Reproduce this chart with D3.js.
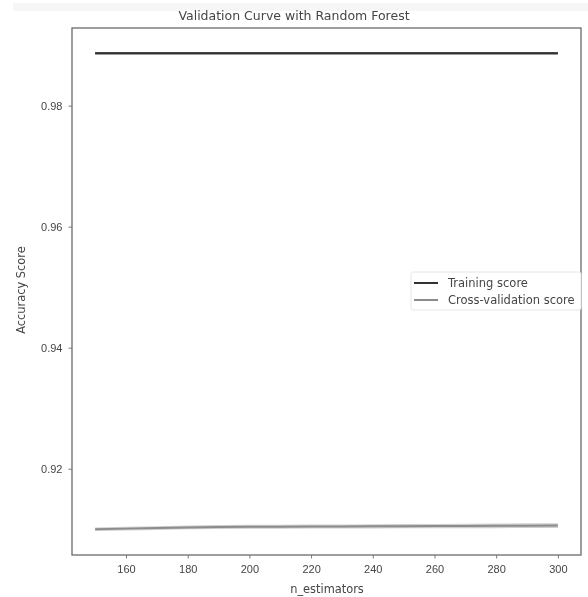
<!DOCTYPE html>
<html>
<head>
<meta charset="utf-8">
<script src="https://cdn.jsdelivr.net/npm/d3@7"></script>
<style>
  html, body { margin: 0; padding: 0; background: #fff; }
  svg { display: block; font-family: "DejaVu Sans", sans-serif; }
</style>
</head>
<body>
<svg id="chart" width="588" height="597"></svg>
<script>
// Number of trees tried in the random forest
const nEstimators = [150, 160, 170, 180, 190, 200, 210, 220, 230, 240, 250, 260, 270, 280, 290, 300];
// Mean and spread of training accuracy
const trainMean = [0.98865, 0.98865, 0.98865, 0.98865, 0.98865, 0.98865, 0.98865, 0.98865,
                   0.98865, 0.98865, 0.98865, 0.98865, 0.98865, 0.98865, 0.98865, 0.98865];
const trainStd  = [0.00022, 0.00022, 0.00022, 0.00022, 0.00022, 0.00022, 0.00022, 0.00022,
                   0.00022, 0.00022, 0.00022, 0.00022, 0.00022, 0.00022, 0.00022, 0.00022];
// Mean and spread of cross-validation accuracy
const testMean = [0.91000, 0.91010, 0.91020, 0.91030, 0.91036, 0.91040, 0.91042, 0.91044,
                  0.91046, 0.91048, 0.91050, 0.91052, 0.91054, 0.91056, 0.91058, 0.91060];
const testStd  = [0.00030, 0.00030, 0.00031, 0.00031, 0.00032, 0.00032, 0.00033, 0.00033,
                  0.00034, 0.00034, 0.00035, 0.00036, 0.00037, 0.00038, 0.00039, 0.00040];
const xTicks = [160, 180, 200, 220, 240, 260, 280, 300];
const yTicks = [0.92, 0.94, 0.96, 0.98];
const seriesNames = ["Training score", "Cross-validation score"];

const svg = d3.select("#chart");
const plotLeft = 72, plotRight = 581, plotTop = 28, plotBottom = 555;
const textColor = "#454545";

// faint strip along the top of the canvas
svg.append("rect").attr("x", 13).attr("y", 3).attr("width", 575).attr("height", 8)
  .attr("fill", "#f6f6f6");

const defs = svg.append("defs");
defs.append("filter").attr("id", "soft").append("feGaussianBlur").attr("stdDeviation", 0.45);

// Axis limits padded by 5% like a default matplotlib axes
const xPad = (d3.max(nEstimators) - d3.min(nEstimators)) * 0.05;
const x = d3.scaleLinear()
  .domain([d3.min(nEstimators) - xPad, d3.max(nEstimators) + xPad])
  .range([plotLeft, plotRight]);

const lo = d3.min(testMean.map((m, i) => m - testStd[i]));
const hi = d3.max(trainMean.map((m, i) => m + trainStd[i]));
const yPad = (hi - lo) * 0.05;
const y = d3.scaleLinear().domain([lo - yPad, hi + yPad]).range([plotBottom, plotTop]);

const band = (mean, std) => d3.area()
  .x((d, i) => x(nEstimators[i]))
  .y0((d, i) => y(mean[i] - std[i]))
  .y1((d, i) => y(mean[i] + std[i]))(mean);
const line = mean => d3.line()
  .x((d, i) => x(nEstimators[i]))
  .y(d => y(d))(mean);

const plot = svg.append("g").attr("filter", "url(#soft)");

// Bands for one standard deviation around each mean
plot.append("path").attr("d", band(trainMean, trainStd)).attr("fill", "#808080");
plot.append("path").attr("d", band(testMean, testStd)).attr("fill", "#cfcfcf");

plot.append("path").attr("d", line(trainMean)).attr("fill", "none")
  .attr("stroke", "#303030").attr("stroke-width", 2);
plot.append("path").attr("d", line(testMean)).attr("fill", "none")
  .attr("stroke", "#8c8c8c").attr("stroke-width", 2);

// Axes frame
const frame = svg.append("g").attr("filter", "url(#soft)");
frame.append("rect").attr("x", plotLeft).attr("y", plotTop)
  .attr("width", plotRight - plotLeft).attr("height", plotBottom - plotTop)
  .attr("fill", "none").attr("stroke", "#6a6a6a").attr("stroke-width", 1.3);

const xAxis = d3.axisBottom(x).tickValues(xTicks).tickSize(3.5).tickPadding(7);
const yAxis = d3.axisLeft(y).tickValues(yTicks).tickSize(3.5).tickPadding(6)
  .tickFormat(d3.format(".2f"));

const gx = frame.append("g").attr("transform", `translate(0,${plotBottom})`).call(xAxis);
const gy = frame.append("g").attr("transform", `translate(${plotLeft},0)`).call(yAxis);
[gx, gy].forEach(g => {
  g.select(".domain").remove();
  g.selectAll("line").attr("stroke", "#777");
  g.selectAll("text").attr("fill", textColor).attr("font-size", 11);
});

// Titles
frame.append("text").attr("x", 294).attr("y", 20).attr("text-anchor", "middle")
  .attr("font-size", 12.5).attr("fill", textColor).text("Validation Curve with Random Forest");
frame.append("text").attr("x", 327).attr("y", 593).attr("text-anchor", "middle")
  .attr("font-size", 11.4).attr("fill", textColor).text("n_estimators");
frame.append("text").attr("transform", "translate(25,290) rotate(-90)")
  .attr("text-anchor", "middle").attr("font-size", 11.4).attr("fill", textColor).text("Accuracy Score");

// Legend
const lg = frame.append("g").attr("transform", "translate(411,272)");
lg.append("rect").attr("width", 170).attr("height", 38).attr("rx", 2)
  .attr("fill", "#fff").attr("stroke", "#e6e6e6");
const legendColors = ["#303030", "#8c8c8c"];
seriesNames.forEach((name, i) => {
  const cy = 11 + i * 17;
  lg.append("line").attr("x1", 3).attr("x2", 27).attr("y1", cy).attr("y2", cy)
    .attr("stroke", legendColors[i]).attr("stroke-width", 2);
  lg.append("text").attr("x", 37).attr("y", cy + 4).attr("font-size", 11.5)
    .attr("fill", textColor).text(name);
});
</script>
</body>
</html>
